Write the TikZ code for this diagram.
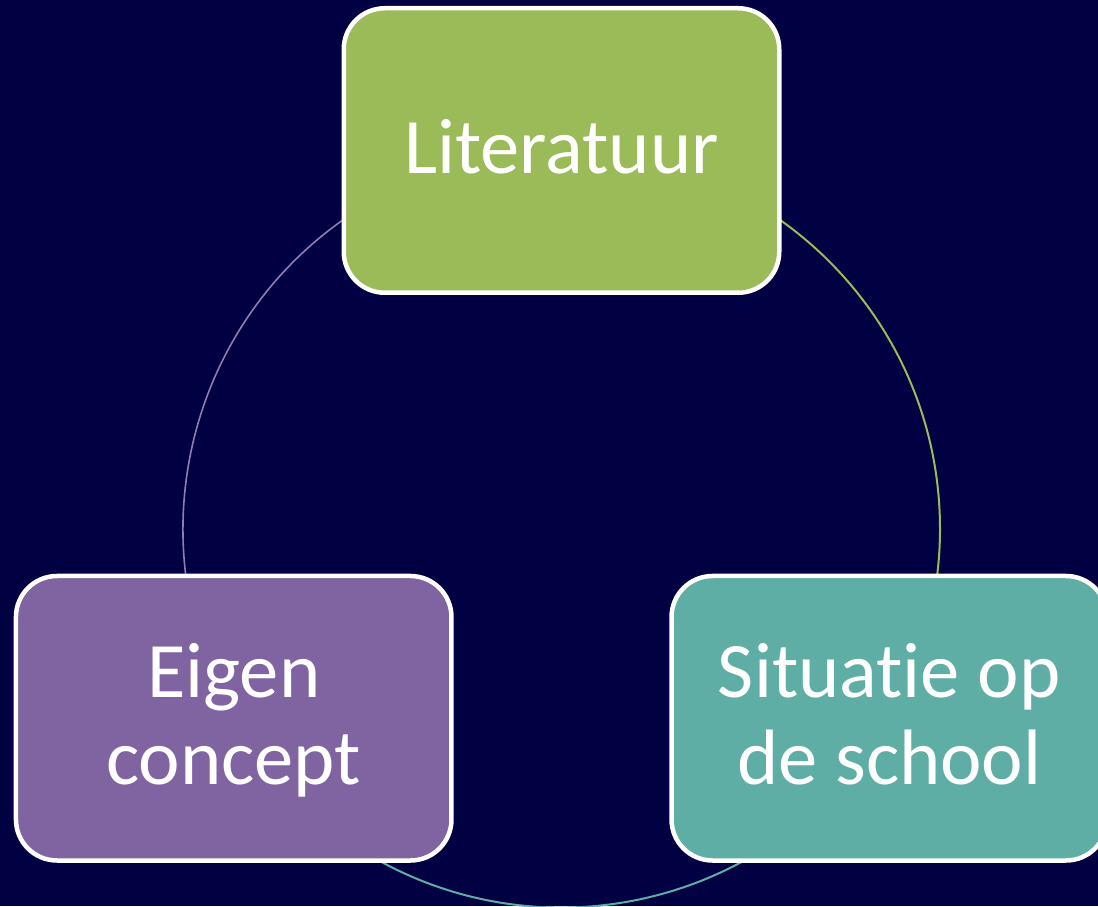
\documentclass[tikz,border=0pt]{standalone}
\usepackage{fontspec}
\setmainfont{Carlito}[RawFeature={-liga;-clig;-dlig;-calt}]
\usetikzlibrary{calc}
\definecolor{bgnavy}{RGB}{0,0,66}
\definecolor{litgreen}{RGB}{155,187,89}
\definecolor{eigpurple}{RGB}{128,100,162}
\definecolor{situteal}{RGB}{94,174,165}
\begin{document}
\begin{tikzpicture}[x=1pt,y=1pt,
  cyclebox/.style={draw=white, line width=4.5pt, rounded corners=41pt,
    minimum width=435.5pt, minimum height=284.5pt, inner sep=0pt,
    text=white, align=center, font=\fontsize{78.6}{86.7}\selectfont},
  oneline/.style={text height=50.6pt, text depth=5pt},
  twoline/.style={text height=137.3pt, text depth=5.7pt},
  arcline/.style={line width=#1}]
  \useasboundingbox (0,0) rectangle (1098,906);
  \fill[bgnavy] (0,0) rectangle (1098,906);
  \clip (0,0) rectangle (1098,906);
  \coordinate (c) at (561.5,377);
  \coordinate (plit) at ($(c)+(90:378.5)$);
  \coordinate (peig) at ($(c)+(210:378.5)$);
  \coordinate (psit) at ($(c)+(330:378.5)$);
  % arcs
  \draw[litgreen, arcline=2pt] (plit) arc[start angle=90, end angle=-30, radius=378.5pt];
  \draw[situteal, arcline=2pt] (psit) arc[start angle=-30, end angle=-150, radius=378.5pt];
  \draw[eigpurple!85!white, arcline=1.6pt] (peig) arc[start angle=210, end angle=90, radius=378.5pt];
  % boxes
  \node[cyclebox, oneline, fill=litgreen] (lit) at (plit) {Literatuur};
  \node[cyclebox, twoline, fill=eigpurple] (eig) at (peig) {Eigen\\concept};
  \node[cyclebox, twoline, fill=situteal] (sit) at (psit) {Situat\kern0pt ie op\\de school};
\end{tikzpicture}
\end{document}
